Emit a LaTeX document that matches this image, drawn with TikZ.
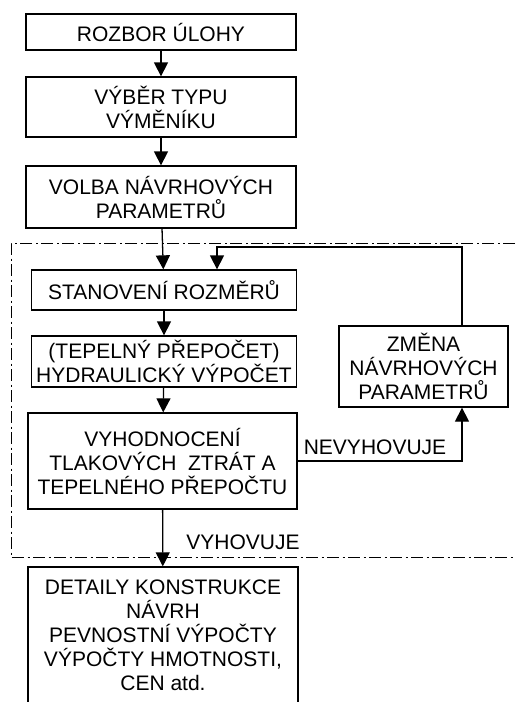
\documentclass[tikz,border=0pt]{standalone}
\usepackage{fontspec}
\setmainfont{Liberation Sans}
\usetikzlibrary{arrows.meta}

\begin{document}
\begin{tikzpicture}[x=1pt,y=-1pt,>={Triangle[length=14pt,width=14pt]},line width=1.3pt,
  blok/.style={draw,align=center,inner sep=2pt,font=\fontsize{21}{24}\selectfont},
  popis/.style={font=\fontsize{21}{24}\selectfont},
  ramec/.style={line width=1pt,dash pattern=on 12pt off 3.5pt on 2pt off 3.5pt}]
\useasboundingbox (0,0) rectangle (515,702);
% hlavni sloupec
\node[blok,minimum width=270,minimum height=36] (b1) at (161,32) {ROZBOR ÚLOHY};
\node[blok,minimum width=270,minimum height=60] (b2) at (161,107) {VÝBĚR TYPU\\VÝMĚNÍKU};
\node[blok,minimum width=270,minimum height=62] (b3) at (161,197) {VOLBA NÁVRHOVÝCH\\PARAMETRŮ};
\node[blok,minimum width=265,minimum height=40] (b4) at (164,290) {STANOVENÍ ROZMĚRŮ};
\node[blok,minimum width=265,minimum height=51] (b5) at (164,361.5) {(TEPELNÝ PŘEPOČET)\\HYDRAULICKÝ VÝPOČET};
\node[blok,minimum width=269,minimum height=96] (b6) at (162.5,461) {VYHODNOCENÍ\\TLAKOVÝCH\ \ ZTRÁT A\\TEPELNÉHO PŘEPOČTU};
\node[blok,minimum width=270,minimum height=136] (b7) at (163,635) {DETAILY KONSTRUKCE\\NÁVRH\\PEVNOSTNÍ VÝPOČTY\\VÝPOČTY HMOTNOSTI,\\CEN atd.};
\node[blok,minimum width=169,minimum height=81] (zm) at (423.5,366.5) {ZMĚNA\\NÁVRHOVÝCH\\PARAMETRŮ};
% ramec iterace
\draw[ramec] (515,243) -- (11,243) -- (11,557) -- (515,557);
% sipky
\draw[->] (b1) -- (b2);
\draw[->] (b2) -- (b3);
\draw[->] (b3) -- (b4);
\draw[->] (b4) -- (b5);
\draw[->] (b5) -- (b6);
\draw[->] (b6) -- (b7);
\coordinate (zr) at (462,0);
\coordinate (nav) at (217,247);
\draw[->] (b6.east) -| (zr |- zm.south);
\draw[->] (zr |- zm.north) |- (nav) -- (nav |- b4.north);
\node[popis] (nev) at (375,447) {NEVYHOVUJE};
\node[popis] (vyh) at (243,542) {VYHOVUJE};
\end{tikzpicture}
\end{document}
